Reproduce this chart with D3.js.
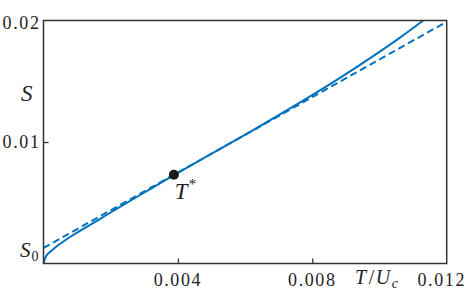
<!DOCTYPE html>
<html>
<head>
<meta charset="utf-8">
<script src="https://cdn.jsdelivr.net/npm/d3@7"></script>
<style>
  html, body { margin: 0; padding: 0; background: #fff; }
  svg { display: block; }
</style>
</head>
<body>
<div id="chart"></div>
<script>
// solid curve S(T)
const solidT = [0, 0.00005, 0.0001, 0.0002, 0.00035, 0.0005, 0.0008, 0.0011, 0.0017, 0.0023,
  0.0029, 0.0035, 0.0039, 0.0047, 0.0061, 0.0076, 0.0088, 0.0097, 0.0106, 0.0113];
const solidS = [0, 0.00045, 0.0007, 0.00096, 0.00132, 0.00163, 0.0022, 0.0027, 0.0037, 0.0047,
  0.00568, 0.00665, 0.0073, 0.00856, 0.01076, 0.0132, 0.01524, 0.01686, 0.01857, 0.0200];

// dashed asymptote S0 + k T
const dashT = [0, 0.012];
const dashS = [0.00128, 0.0199];

// marked point T*
const starT = [0.00388];
const starS = [0.0073];

const xTicks = [0.004, 0.008, 0.012];
const yTicks = [0.01, 0.02];
const xTickLabels = ["0.004", "0.008", "0.012"];
const yTickLabels = ["0.01", "0.02"];

const width = 471;
const height = 302;
const marginTop = 20.5;
const marginRight = 24.3;
const marginBottom = 38.5;
const marginLeft = 43.5;
const blue = "#0072bd";

const svg = d3.select("#chart")
  .append("svg")
  .attr("width", width)
  .attr("height", height)
  .attr("viewBox", [0, 0, width, height])
  .attr("font-family", "'Liberation Serif', 'Times New Roman', serif")
  .attr("fill", "#222");

const x = d3.scaleLinear()
  .domain([0, 0.012])
  .range([marginLeft, width - marginRight]);

const y = d3.scaleLinear()
  .domain([0, 0.02])
  .range([height - marginBottom, marginTop]);

// inward ticks, labels drawn by hand below
svg.append("g")
  .attr("transform", `translate(0,${height - marginBottom})`)
  .call(d3.axisBottom(x).tickValues(xTicks.slice(0, 2)).tickSize(-5).tickFormat(""))
  .call(g => g.select(".domain").remove())
  .call(g => g.selectAll("line").attr("stroke", "#333").attr("stroke-width", 1.3));

svg.append("g")
  .attr("transform", `translate(${marginLeft},0)`)
  .call(d3.axisLeft(y).tickValues(yTicks.slice(0, 1)).tickSize(-5).tickFormat(""))
  .call(g => g.select(".domain").remove())
  .call(g => g.selectAll("line").attr("stroke", "#333").attr("stroke-width", 1.3));

const line = d3.line()
  .x(d => x(d[0]))
  .y(d => y(d[1]))
  .curve(d3.curveMonotoneX);

svg.append("path")
  .datum(dashT.map((t, i) => [t, dashS[i]]))
  .attr("fill", "none")
  .attr("stroke", blue)
  .attr("stroke-width", 2)
  .attr("stroke-dasharray", "7,4")
  .attr("d", line);

svg.append("path")
  .datum(solidT.map((t, i) => [t, solidS[i]]))
  .attr("fill", "none")
  .attr("stroke", blue)
  .attr("stroke-width", 2)
  .attr("d", line);

// frame
svg.append("rect")
  .attr("x", marginLeft)
  .attr("y", marginTop)
  .attr("width", width - marginLeft - marginRight)
  .attr("height", height - marginTop - marginBottom)
  .attr("fill", "none")
  .attr("stroke", "#333")
  .attr("stroke-width", 1.5);

svg.selectAll("circle.star")
  .data(starT)
  .join("circle")
  .attr("class", "star")
  .attr("cx", d => x(d))
  .attr("cy", (d, i) => y(starS[i]))
  .attr("r", 5)
  .attr("fill", "#1a1a1a");

// tick labels
const fs = 18;
svg.selectAll("text.xt")
  .data(xTicks)
  .join("text")
  .attr("class", "xt")
  .attr("font-size", fs)
  .attr("letter-spacing", 1.6)
  .attr("x", (d, i) => i === xTicks.length - 1 ? width - 5 : x(d))
  .attr("y", height - marginBottom + 22.5)
  .attr("text-anchor", (d, i) => i === xTicks.length - 1 ? "end" : "middle")
  .text((d, i) => xTickLabels[i]);

svg.selectAll("text.yt")
  .data(yTicks)
  .join("text")
  .attr("class", "yt")
  .attr("font-size", fs)
  .attr("letter-spacing", 1.6)
  .attr("x", marginLeft - 3)
  .attr("y", d => Math.max(y(d) + 6, 29))
  .attr("text-anchor", "end")
  .text((d, i) => yTickLabels[i]);

// axis / point labels
svg.append("text")
  .attr("font-size", 23)
  .attr("font-style", "italic")
  .attr("x", 21)
  .attr("y", 101)
  .text("S");

const s0 = svg.append("text")
  .attr("font-size", 21)
  .attr("x", 20)
  .attr("y", y(dashS[0]) + 9);
s0.append("tspan").attr("font-style", "italic").text("S");
s0.append("tspan").attr("font-size", 14).attr("dy", 4).attr("dx", 1).text("0");

const tu = svg.append("text")
  .attr("font-size", 20)
  .attr("letter-spacing", 1.5)
  .attr("x", 355)
  .attr("y", height - marginBottom + 20);
tu.append("tspan").attr("font-style", "italic").text("T");
tu.append("tspan").attr("dx", 1).text("/");
tu.append("tspan").attr("font-style", "italic").text("U");
tu.append("tspan").attr("font-style", "italic").attr("font-size", 14).attr("dy", 4).text("c");

const ts = svg.append("text")
  .attr("font-size", 23)
  .attr("x", x(starT[0]) + 1)
  .attr("y", y(starS[0]) + 24);
ts.append("tspan").attr("font-style", "italic").text("T");
ts.append("tspan").attr("font-size", 15).attr("dy", -10).attr("dx", 1).text("*");
</script>
</body>
</html>
